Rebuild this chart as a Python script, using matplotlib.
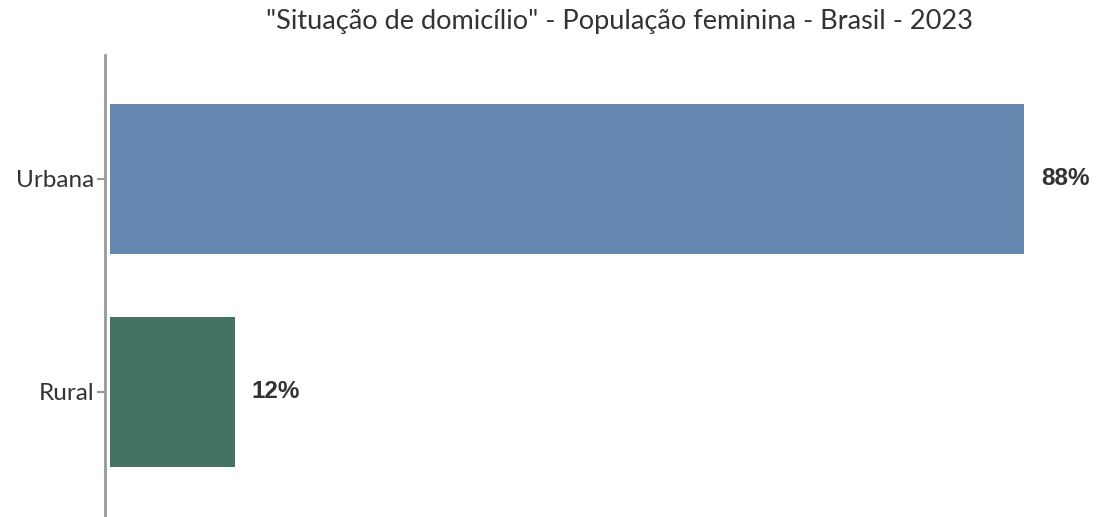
import matplotlib
matplotlib.use("Agg")
import matplotlib.pyplot as plt

categories = ["Rural", "Urbana"]
values = [12, 88]
colors = ["#447461", "#6688B0"]
title = "\"Situação de domicílio\" - População feminina - Brasil - 2023"

fig = plt.figure(figsize=(10.97, 5.17), dpi=100)
ax = fig.add_axes([105 / 1097, 0, 1 - 105 / 1097, (517 - 55) / 517])

pos = list(range(len(categories)))
ax.barh(pos, values, height=0.70, color=colors)
for p, v in zip(pos, values):
    ax.text(v + 1.6, p, f"{v}%", va="center", ha="left",
            fontsize=17.5, fontweight="bold", color="#333333", family="Liberation Sans")

ax.set_xlim(-0.48, 95)
ax.set_ylim(-0.587, 1.582)
ax.set_yticks(pos)
ax.set_yticklabels(categories, fontsize=17.5, color="#333333", family="Lato")
ax.tick_params(axis="y", length=6, width=1.5, color="#999999", pad=2)
ax.set_xticks([])
for s in ["top", "right", "bottom"]:
    ax.spines[s].set_visible(False)
ax.spines["left"].set_color("#999999")
ax.spines["left"].set_linewidth(2)

fig.text(620 / 1097, 1 - 22 / 517, title, ha="center", va="center",
         fontsize=19.5, color="#333333", family="Lato")

fig.savefig("out.png", dpi=100)
